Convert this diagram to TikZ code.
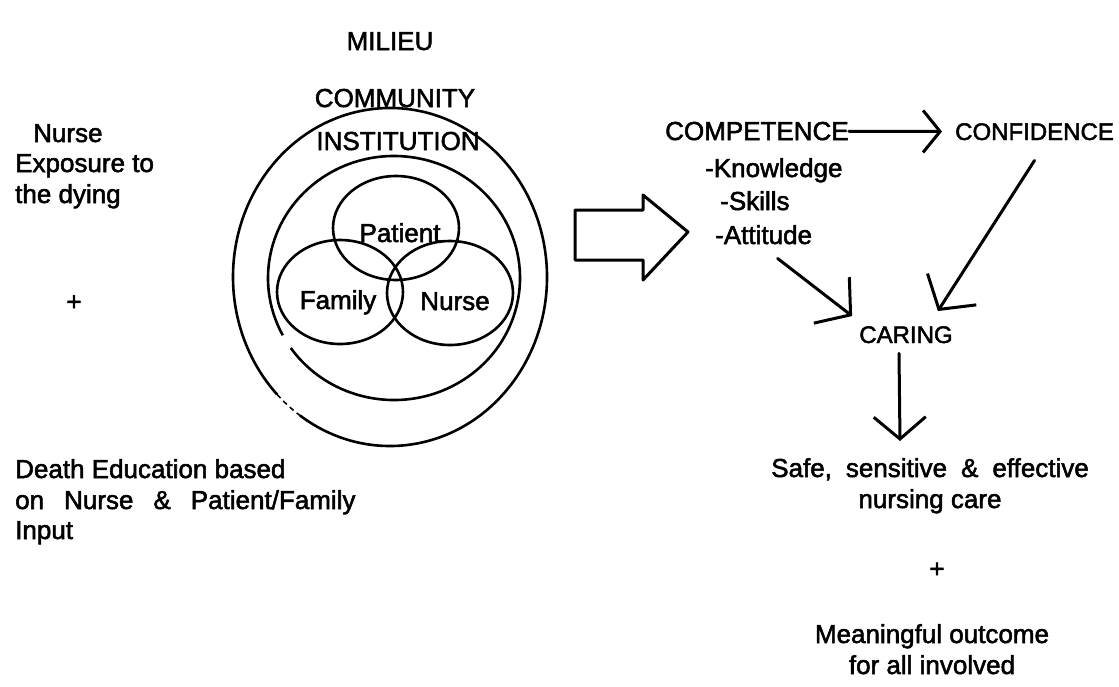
\documentclass[tikz,border=0pt]{standalone}
\usepackage{fontspec}
\setmainfont{Liberation Sans}[FakeBold=2]
\usetikzlibrary{arrows.meta, shapes.geometric}

\tikzset{
  lbl/.style={inner sep=0pt, font=\fontsize{26}{30}\selectfont},
  caplbl/.style={inner sep=0pt, font=\fontsize{24}{28}\selectfont},
  ring/.style={draw, line width=2.6pt},
  blob/.style={ellipse, draw, line width=2.6pt, minimum width=126pt, minimum height=104pt, inner sep=0pt},
  barb/.style={-{Straight Barb[length=17pt, width=42pt]}, line width=3pt, line cap=round},
  widebarb/.style={-{Straight Barb[length=24pt, width=58pt]}, line width=3pt, line cap=round}
}

\begin{document}
\begin{tikzpicture}[x=1pt, y=-1pt]
                    \useasboundingbox (0, 0) rectangle (1119, 686);

                    % left column
                    \node (nurseA) [lbl, anchor=base west] at (33, 142) {Nurse};
                    \node (nurseB) [lbl, anchor=base west] at (15, 172) {Exposure to};
                    \node (nurseC) [lbl, anchor=base west] at (15, 203) {the dying};
                    \node (plusL) [lbl] at (74, 303) {+};
                    \node (deathA) [lbl, anchor=base west] at (15, 478) {Death Education based};
                    \node (deathB) [lbl, anchor=base west] at (15, 509) {on\hspace{20pt}Nurse\hspace{20pt}\&\hspace{20pt}Patient/Family};
                    \node (deathC) [lbl, anchor=base west] at (15, 539) {Input};

                    % milieu rings
                    \node (milieu) [lbl, anchor=base] at (390, 50) {MILIEU};
                    \node (community) [lbl, anchor=base] at (395, 107) {COMMUNITY};
                    \node (institution) [lbl, anchor=base] at (398, 150) {INSTITUTION};
                    \coordinate (milieuc) at (390, 277);
                    \coordinate (instc) at (394, 278);
                    \draw [ring] ([shift={(235:157pt and 169pt)}]milieuc) arc [start angle=235, end angle=584, x radius=157pt, y radius=169pt];
                    \draw [ring, line width=1.6pt, dash pattern=on 5pt off 4pt] ([shift={(224:157pt and 169pt)}]milieuc) arc [start angle=224, end angle=235, x radius=157pt, y radius=169pt];
                    \draw [ring] ([shift={(215:126pt and 122pt)}]instc) arc [start angle=215, end angle=568, x radius=126pt, y radius=122pt];

                    \node (patientring) [blob] at (396, 228) {};
                    \node (familyring) [blob] at (340, 292) {};
                    \node (nursering) [blob] at (450, 293) {};
                    \node (patient) [lbl, anchor=base] at (400, 242) {Patient};
                    \node (family) [lbl, anchor=base] at (338, 309) {Family};
                    \node (nurse) [lbl, anchor=base] at (455, 310) {Nurse};

                    % hollow arrow
                    \draw [line width=3pt, line join=round] (575, 210) -- (643, 210) -- (643, 195) -- (688, 232) -- (643, 280) -- (643, 260) -- (575, 260) -- cycle;

                    % right side
                    \node (competence) [lbl, anchor=base west] at (665, 140) {COMPETENCE};
                    \node (confidence) [caplbl, anchor=base west] at (955, 140) {CONFIDENCE};
                    \node (knowledge) [lbl, anchor=base west] at (705, 177) {-Knowledge};
                    \node (skills) [lbl, anchor=base west] at (720, 210) {-Skills};
                    \node (attitude) [lbl, anchor=base west] at (715, 244) {-Attitude};
                    \node (caring) [caplbl, anchor=base] at (906, 343) {CARING};
                    \node (safeA) [lbl, anchor=base] at (930, 477) {Safe,\hspace{14pt}sensitive\hspace{14pt}\&\hspace{14pt}effective};
                    \node (safeB) [lbl, anchor=base] at (930, 508) {nursing care};
                    \node (plusR) [lbl] at (937, 570) {+};
                    \node (outcomeA) [lbl, anchor=base] at (932, 643) {Meaningful outcome};
                    \node (outcomeB) [lbl, anchor=base] at (932, 674) {for all involved};

                    \draw (competence) edge[barb, shorten >=13pt] (confidence);
                    \draw ([xshift=14pt, yshift=-14pt]attitude.south) edge[widebarb] ([xshift=-7pt, yshift=10pt]caring.north west);
                    \draw ([yshift=-20pt]confidence.south) edge[widebarb] ([xshift=-15pt, yshift=15pt]caring.north east);
                    \draw ([xshift=-7pt, yshift=-10pt]caring.south) edge[barb, -{Straight Barb[length=22pt, width=52pt]}] ([xshift=-30pt, yshift=17pt]safeA.north);
                \end{tikzpicture}
\end{document}
